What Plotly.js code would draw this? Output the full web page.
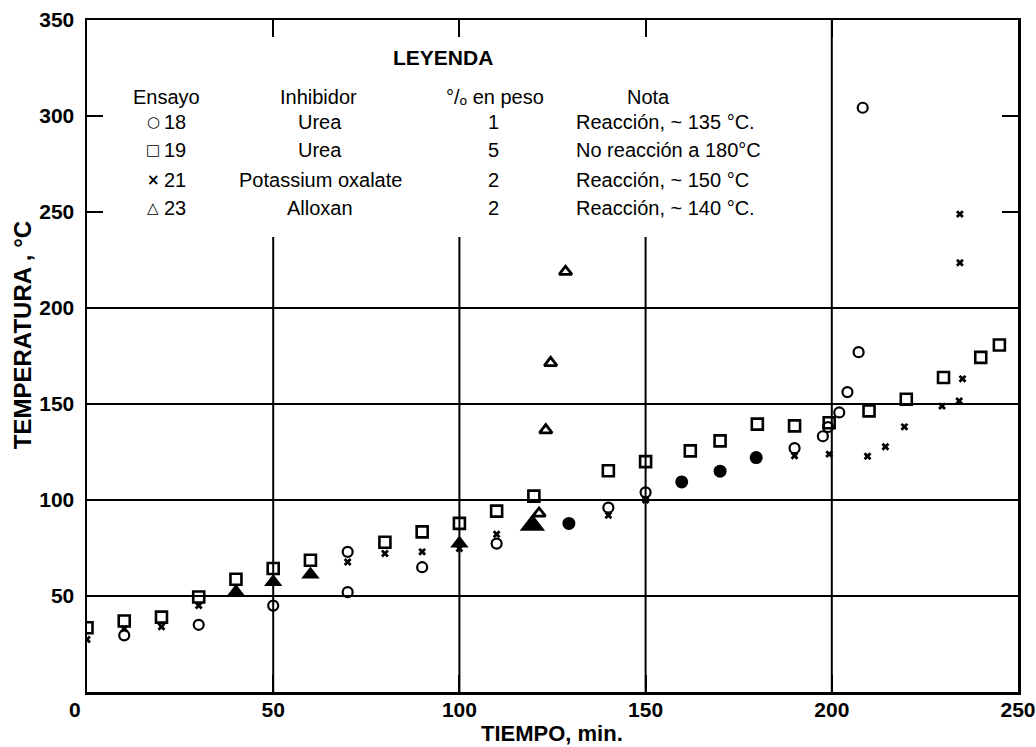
<!DOCTYPE html>
<html>
<head>
<meta charset="utf-8">
<script src="https://cdn.plot.ly/plotly-3.0.1.min.js"></script>
<style>html,body{margin:0;padding:0;background:#fff;}#chart{width:1036px;height:747px;}</style>
</head>
<body>
<div id="chart"></div>
<script>
// ---- Data ----
// Ensayo 18 – Urea 1 % (open circles)
const e18_x = [10, 30, 50, 70, 70, 90, 110, 140, 150, 190, 197.6, 199, 202, 204.2, 207.2, 208.3];
const e18_y = [29.5, 35, 45, 73, 52, 65, 77.3, 96, 104, 127, 133.2, 138, 145.6, 156.2, 177, 304.3];
// Ensayo 19 – Urea 5 % (open squares)
const e19_x = [0, 10, 20, 30, 40, 50, 60, 80, 90, 100, 110, 120, 140, 150, 162, 170, 180, 190, 199.3, 210, 220, 230, 240, 245];
const e19_y = [33.5, 37, 39, 49.5, 58.7, 64.3, 68.6, 78, 83.4, 87.8, 94.2, 102, 115.2, 120, 125.6, 130.8, 139.5, 138.6, 140.2, 146.4, 152.5, 163.8, 174.3, 180.7];
// Ensayo 21 – Potassium oxalate 2 % (small crosses)
const e21_x = [0, 10, 20, 30, 70, 80, 90, 100, 110, 140, 150, 190, 199.3, 209.6, 214.4, 219.5, 229.6, 234.2, 235.1, 234.4, 234.4];
const e21_y = [27.3, 33, 34, 45, 67.7, 72.1, 73, 74.7, 82.2, 92.1, 100, 123, 123.9, 122.8, 127.7, 138.1, 148.9, 151.6, 163.1, 223.6, 248.9];
// Ensayo 23 – Alloxan 2 % (open triangles)
const e23_x = [121.4, 123.2, 124.5, 128.5];
const e23_y = [93, 136.4, 171.4, 218.9];
// Filled triangles
const ftri_x = [40, 50, 60, 100, 119.6];
const ftri_y = [52.1, 57.3, 61.2, 77.3, 86.9];
// Filled circles
const fcir_x = [129.4, 159.7, 170, 179.7];
const fcir_y = [87.8, 109.4, 115, 122.1];

// Tick values
const xTicks = [0, 50, 100, 150, 200, 250];
const xTickText = ['', '50', '100', '150', '200', '250'];
const yTicks = [0, 50, 100, 150, 200, 250, 300, 350];
const yTickText = ['', '50', '100', '150', '200', '250', '300', '350'];

// Legend table
const legHeaders = ['Ensayo', 'Inhibidor', '°/ₒ en peso', 'Nota'];
const legSymbols = ['○', '□', '×', '△'];
const legEnsayo = ['18', '19', '21', '23'];
const legInhib = ['Urea', 'Urea', 'Potassium oxalate', 'Alloxan'];
const legPeso = ['1', '5', '2', '2'];
const legNota = ['Reacción, ~ 135 °C.', 'No reacción a 180°C', 'Reacción, ~ 150 °C', 'Reacción, ~ 140 °C.'];

// ---- Layout helpers ----
const FONT = 'Liberation Sans, Arial, sans-serif';
const L = 87, R = 1018, T = 20, B = 691.7;
function px(xp) { return (xp - L) / (R - L); }
function py(yp) { return (B - yp) / (B - T); }

const traces = [
  { x: e18_x, y: e18_y, mode: 'markers', type: 'scatter', name: '18',
    marker: { symbol: 'circle-open', size: 10, color: '#000', line: { width: 2.2, color: '#000' } } },
  { x: e19_x, y: e19_y, mode: 'markers', type: 'scatter', name: '19',
    marker: { symbol: 'square-open', size: 11, color: '#000', line: { width: 2.6, color: '#000' } } },
  { x: e21_x, y: e21_y, mode: 'markers', type: 'scatter', name: '21',
    marker: { symbol: 'x', size: 7, color: '#000', line: { width: 0 } } },
  { x: e23_x, y: e23_y, mode: 'markers', type: 'scatter', name: '23',
    marker: { symbol: 'triangle-up-open', size: 11, color: '#000', line: { width: 2.8, color: '#000' } } },
  { x: ftri_x, y: ftri_y, mode: 'markers', type: 'scatter', name: 'ftri',
    marker: { symbol: 'triangle-up', size: [16, 16, 16, 16, 22], color: '#000', opacity: 1, line: { width: 0 } } },
  { x: fcir_x, y: fcir_y, mode: 'markers', type: 'scatter', name: 'fcir',
    marker: { symbol: 'circle', size: 13, color: '#000', opacity: 1 } }
];

const shapes = [];
[50, 100, 150].forEach(v => shapes.push({ type: 'line', xref: 'x', yref: 'y', x0: v, x1: v, y0: 0, y1: 237, line: { color: '#000', width: 2 }, layer: 'below' }));
shapes.push({ type: 'line', xref: 'x', yref: 'y', x0: 200, x1: 200, y0: 0, y1: 350, line: { color: '#000', width: 2 }, layer: 'below' });
[50, 100, 150, 200].forEach(v => shapes.push({ type: 'line', xref: 'x', yref: 'y', x0: 0, x1: 250, y0: v, y1: v, line: { color: '#000', width: 2 }, layer: 'below' }));

const ann = [];
function addText(text, xpix, ypix, opts) {
  opts = opts || {};
  ann.push(Object.assign({
    text: text, xref: 'paper', yref: 'paper', x: px(xpix), y: py(ypix),
    xanchor: 'center', yanchor: 'middle', showarrow: false,
    font: { family: FONT, size: 20, color: '#000' }
  }, opts));
}
addText('<b>LEYENDA</b>', 443, 57, { font: { family: FONT, size: 21, color: '#000' } });
const hdrX = [166, 318, 495, 648];
legHeaders.forEach((h, i) => addText(h, hdrX[i], 97));
const rowY = [122, 150, 180, 208];
for (let i = 0; i < 4; i++) {
  addText('<b>' + legSymbols[i] + '</b>', 153, rowY[i], { font: { family: 'DejaVu Sans', size: i === 2 ? 15 : 15, color: '#000' } });
  addText(legEnsayo[i], 162, rowY[i], { xanchor: 'left' });
  addText(legInhib[i], 320, rowY[i]);
  addText(legPeso[i], 493, rowY[i]);
  addText(legNota[i], 574, rowY[i], { xanchor: 'left' });
}
addText('<b>0</b>', 75, 709, { font: { family: FONT, size: 21, color: '#000' } });
addText('<b>TIEMPO, min.</b>', 552, 733, { font: { family: FONT, size: 22, color: '#000' } });
addText('<b>TEMPERATURA , °C</b>', 22, 335, { textangle: -90, font: { family: FONT, size: 24, color: '#000' } });

const layout = {
  width: 1036, height: 747,
  margin: { l: L, r: 1036 - R, t: T, b: 747 - B },
  paper_bgcolor: '#fff', plot_bgcolor: '#fff',
  showlegend: false,
  font: { family: FONT, color: '#000' },
  xaxis: {
    range: [0, 250], tickvals: xTicks, ticktext: xTickText,
    showgrid: false, zeroline: false,
    showline: true, linewidth: 2.5, linecolor: '#000', mirror: 'ticks',
    ticks: 'inside', ticklen: 17, tickwidth: 2, tickcolor: '#000',
    tickfont: { family: FONT, size: 21, color: '#000', weight: 'bold' },
    ticklabelstandoff: -3
  },
  yaxis: {
    range: [0, 350], tickvals: yTicks, ticktext: yTickText,
    showgrid: false, zeroline: false,
    showline: true, linewidth: 2.5, linecolor: '#000', mirror: 'ticks',
    ticks: 'inside', ticklen: 16, tickwidth: 2, tickcolor: '#000',
    tickfont: { family: FONT, size: 21, color: '#000', weight: 'bold' },
    ticklabelstandoff: 6
  },
  shapes: shapes,
  annotations: ann
};

Plotly.newPlot('chart', traces, layout, { staticPlot: true, displayModeBar: false });
</script>
</body>
</html>
